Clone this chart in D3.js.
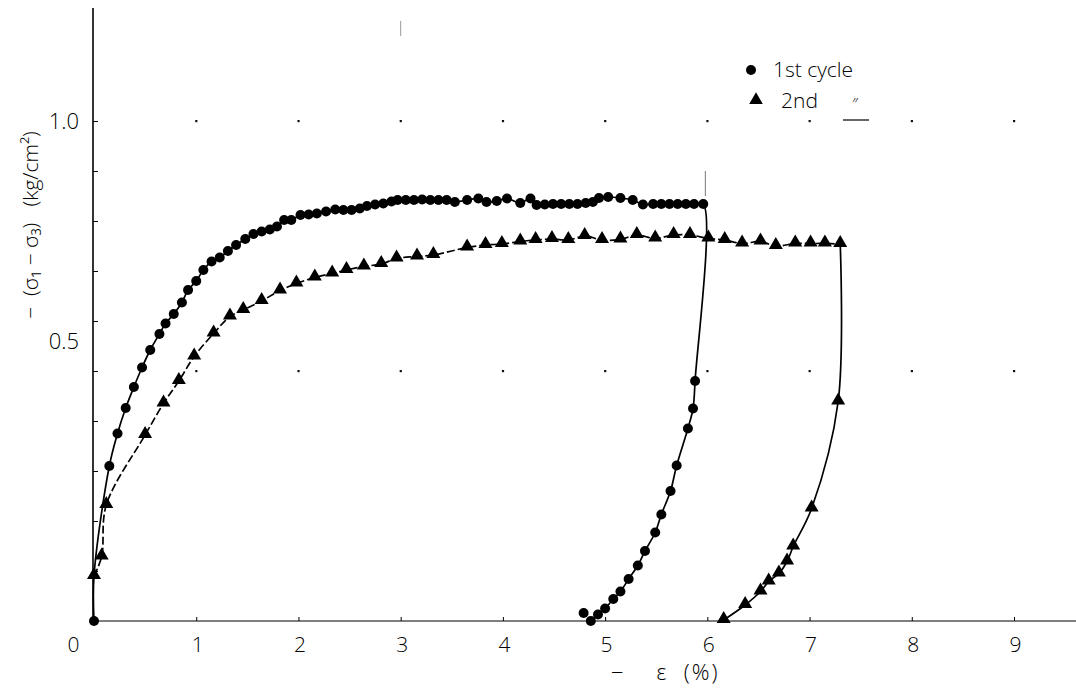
<!DOCTYPE html>
<html>
<head>
<meta charset="utf-8">
<script src="https://cdn.jsdelivr.net/npm/d3@7"></script>
<style>
  html, body { margin: 0; padding: 0; background: #fff; }
  svg { display: block; color: #000; }
  text { font-family: "Open Sans", "DejaVu Sans", sans-serif; font-weight: 300; fill: #000; }
  text.pre { white-space: pre; }
</style>
</head>
<body>
<svg id="chart" width="1076" height="693"></svg>
<script>
// ---------------- data ----------------
const xTickValues = [0, 1, 2, 3, 4, 5, 6, 7, 8, 9];
const xTickLabels = ["0", "1", "2", "3", "4", "5", "6", "7", "8", "9"];
const yTickValues = [0.5, 1.0];
const yTickLabels = ["0.5", "1.0"];
const yMinorTicks = [0.1, 0.2, 0.3, 0.4, 0.5, 0.6, 0.7, 0.8, 0.9, 1.0];
const seriesNames = ["1st cycle", "2nd"];

// 1st cycle: strain (%) , deviator stress (kg/cm2)
const cycle1Strain = [0.00, 0.00, 0.15, 0.23, 0.31, 0.39, 0.47, 0.55, 0.64, 0.70, 0.78, 0.86, 0.92, 1.00,
  1.07, 1.15, 1.23, 1.31, 1.39, 1.48, 1.56, 1.64, 1.72, 1.79, 1.86, 1.93, 2.02, 2.10, 2.18, 2.27,
  2.36, 2.44, 2.52, 2.60, 2.67, 2.75, 2.83, 2.91, 2.97, 3.05, 3.13, 3.21, 3.29, 3.37, 3.45, 3.53,
  3.65, 3.76, 3.84, 3.94, 4.04, 4.17, 4.27, 4.33, 4.41, 4.49, 4.57, 4.65, 4.73, 4.81, 4.88, 4.94,
  5.03, 5.15, 5.27, 5.37, 5.47, 5.55, 5.63, 5.71, 5.79, 5.87, 5.96,
  5.88, 5.86, 5.81, 5.70, 5.64, 5.55, 5.49, 5.39, 5.32, 5.23, 5.15, 5.08, 5.00, 4.93, 4.86];
const cycle1Stress = [0.00, 0.09, 0.31, 0.375, 0.426, 0.468, 0.507, 0.542, 0.574, 0.595, 0.614, 0.637, 0.662, 0.680,
  0.702, 0.719, 0.727, 0.740, 0.752, 0.764, 0.774, 0.779, 0.783, 0.789, 0.802, 0.802, 0.812, 0.813, 0.815, 0.819,
  0.823, 0.822, 0.822, 0.825, 0.830, 0.833, 0.835, 0.839, 0.842, 0.842, 0.842, 0.843, 0.842, 0.842, 0.842, 0.838,
  0.842, 0.845, 0.838, 0.840, 0.845, 0.836, 0.845, 0.832, 0.833, 0.834, 0.834, 0.834, 0.834, 0.836, 0.838, 0.846,
  0.848, 0.846, 0.842, 0.833, 0.834, 0.834, 0.834, 0.834, 0.834, 0.834, 0.834,
  0.480, 0.425, 0.385, 0.311, 0.260, 0.213, 0.177, 0.140, 0.111, 0.084, 0.059, 0.044, 0.025, 0.013, 0.000];
// stray reading near the end of the 1st unloading
const cycle1ExtraStrain = [4.79];
const cycle1ExtraStress = [0.016];

// 2nd cycle loading
const cycle2LoadStrain = [0.00, 0.075, 0.12, 0.50, 0.68, 0.83, 0.98, 1.17, 1.33, 1.46, 1.64, 1.82, 1.98,
  2.16, 2.33, 2.47, 2.64, 2.81, 2.96, 3.16, 3.32, 3.65, 3.83, 3.99, 4.17, 4.32, 4.48, 4.64, 4.80,
  4.97, 5.15, 5.31, 5.49, 5.67, 5.83, 6.01, 6.17, 6.34, 6.52, 6.67, 6.86, 7.01, 7.15, 7.30];
const cycle2LoadStress = [0.09, 0.129, 0.232, 0.372, 0.435, 0.480, 0.529, 0.575, 0.609, 0.622, 0.640, 0.661, 0.675,
  0.687, 0.695, 0.702, 0.709, 0.714, 0.725, 0.729, 0.732, 0.747, 0.752, 0.754, 0.759, 0.762, 0.764, 0.762, 0.770,
  0.762, 0.763, 0.772, 0.765, 0.772, 0.772, 0.765, 0.762, 0.755, 0.759, 0.750, 0.755, 0.755, 0.755, 0.754];
// 2nd cycle unloading
const cycle2UnloadStrain = [7.30, 7.28, 7.02, 6.84, 6.78, 6.70, 6.60, 6.52, 6.37, 6.16];
const cycle2UnloadStress = [0.754, 0.439, 0.225, 0.149, 0.119, 0.095, 0.079, 0.059, 0.032, 0.002];

// ---------------- drawing ----------------
const svg = d3.select("#chart");
const x = d3.scaleLinear().domain([0, 9]).range([94, 1014]);
const y = d3.scaleLinear().domain([0, 1]).range([621, 121]);
const zip = (a, b) => a.map((v, i) => [v, b[i]]);
const FONT = "'Open Sans','DejaVu Sans',sans-serif";

const c1 = zip(cycle1Strain, cycle1Stress);
const c2l = zip(cycle2LoadStrain, cycle2LoadStress);
const c2u = zip(cycle2UnloadStrain, cycle2UnloadStress);

// grid dots
const dotG = svg.append("g");
[0.5, 1.0].forEach(v => {
  xTickValues.slice(1).forEach(t => {
    dotG.append("rect").attr("x", x(t) - 1).attr("y", y(v) - 1).attr("width", 2.2).attr("height", 2.2).attr("fill", "#111");
  });
});
// faint marks of the original sheet
svg.append("line").attr("x1", x(3)).attr("x2", x(3)).attr("y1", y(1.2)).attr("y2", y(1.17))
  .attr("stroke", "#999").attr("stroke-width", 1);
svg.append("line").attr("x1", x(6) - 2).attr("x2", x(6) - 2).attr("y1", y(0.9)).attr("y2", y(0.85))
  .attr("stroke", "#777").attr("stroke-width", 1);

// axes lines
svg.append("line").attr("x1", x(0) - 1).attr("x2", x(0) - 1).attr("y1", 8).attr("y2", y(0))
  .attr("stroke", "#000").attr("stroke-width", 1.6);
svg.append("line").attr("x1", x(0)).attr("x2", 1076).attr("y1", y(0)).attr("y2", y(0))
  .attr("stroke", "#000").attr("stroke-width", 1.2);

// x axis ticks & labels
const xAxis = d3.axisBottom(x).tickValues(xTickValues).tickSize(-4).tickPadding(16)
  .tickFormat((d, i) => xTickLabels[i]);
const gx = svg.append("g").attr("transform", `translate(0,${y(0)})`).call(xAxis);
gx.select(".domain").remove();
gx.selectAll(".tick line").attr("stroke", "#000").attr("stroke-width", 1);
gx.selectAll(".tick text").attr("font-size", 21).attr("dy", "0.71em")
  .attr("font-family", FONT).attr("font-weight", 300)
  .attr("dx", d => d === 0 ? -21 : 1);
gx.selectAll(".tick").filter(d => d === 0).select("line").remove();

// y axis minor ticks (pointing inward)
const yMinor = d3.axisRight(y).tickValues(yMinorTicks).tickSize(5).tickFormat("");
const gym = svg.append("g").attr("transform", `translate(${x(0) - 1},0)`).call(yMinor);
gym.select(".domain").remove();
gym.selectAll(".tick line").attr("stroke", "#000").attr("stroke-width", 1);

// y axis labels (the 0.5 label sits a little above its tick in the original)
const yAxis = d3.axisLeft(y).tickValues(yTickValues).tickSize(0).tickPadding(14)
  .tickFormat((d, i) => yTickLabels[i]);
const gy = svg.append("g").attr("transform", `translate(${x(0) - 1},0)`).call(yAxis);
gy.select(".domain").remove();
gy.selectAll(".tick text").attr("font-size", 22)
  .attr("font-family", FONT).attr("font-weight", 300)
  .attr("y", d => d === 0.5 ? -30 : 0);

// axis titles
svg.append("text").attr("class", "pre").attr("transform", "translate(38,225) rotate(-90)").attr("text-anchor", "middle")
  .attr("font-size", 21).text("−  (σ₁ − σ₃)   (kg/cm²)");
svg.append("text").attr("class", "pre").attr("x", 611).attr("y", 680).attr("text-anchor", "start")
  .attr("font-size", 22).attr("letter-spacing", 2).text("−    ε  (%)");

// lines
const lineCurve = d3.line().x(d => x(d[0])).y(d => y(d[1])).curve(d3.curveCatmullRom.alpha(0.5));
svg.append("path").datum(c1).attr("d", lineCurve).attr("fill", "none").attr("stroke", "#000").attr("stroke-width", 1.7);
svg.append("path").datum(c2l).attr("d", lineCurve).attr("fill", "none").attr("stroke", "#000")
  .attr("stroke-width", 1.7).attr("stroke-dasharray", "8,3");
svg.append("path").datum(c2u).attr("d", lineCurve).attr("fill", "none").attr("stroke", "#000").attr("stroke-width", 1.7);

// markers
const circ = c1.concat(zip(cycle1ExtraStrain, cycle1ExtraStress)).filter((d, i) => i !== 1);
svg.append("g").selectAll("circle").data(circ).join("circle")
  .attr("cx", d => x(d[0])).attr("cy", d => y(d[1])).attr("r", 5).attr("fill", "#000");
const tri = d3.symbol().type(d3.symbolTriangle).size(85);
svg.append("g").selectAll("path").data(c2l.concat(c2u.slice(1))).join("path")
  .attr("d", tri).attr("transform", d => `translate(${x(d[0])},${y(d[1]) - 1})`).attr("fill", "#000");

// legend
const lg = svg.append("g");
lg.append("circle").attr("cx", 751).attr("cy", 70).attr("r", 5).attr("fill", "#000");
lg.append("text").attr("x", 773).attr("y", 77).attr("font-size", 21).text(seriesNames[0]);
lg.append("path").attr("d", d3.symbol().type(d3.symbolTriangle).size(80))
  .attr("transform", "translate(756,100)").attr("fill", "#000");
lg.append("text").attr("x", 781).attr("y", 108).attr("font-size", 21).text(seriesNames[1]);
lg.append("text").attr("x", 852).attr("y", 110).attr("font-size", 16).text("″");
lg.append("line").attr("x1", 843).attr("x2", 869).attr("y1", 120).attr("y2", 120).attr("stroke", "#000").attr("stroke-width", 1.2);
</script>
</body>
</html>
